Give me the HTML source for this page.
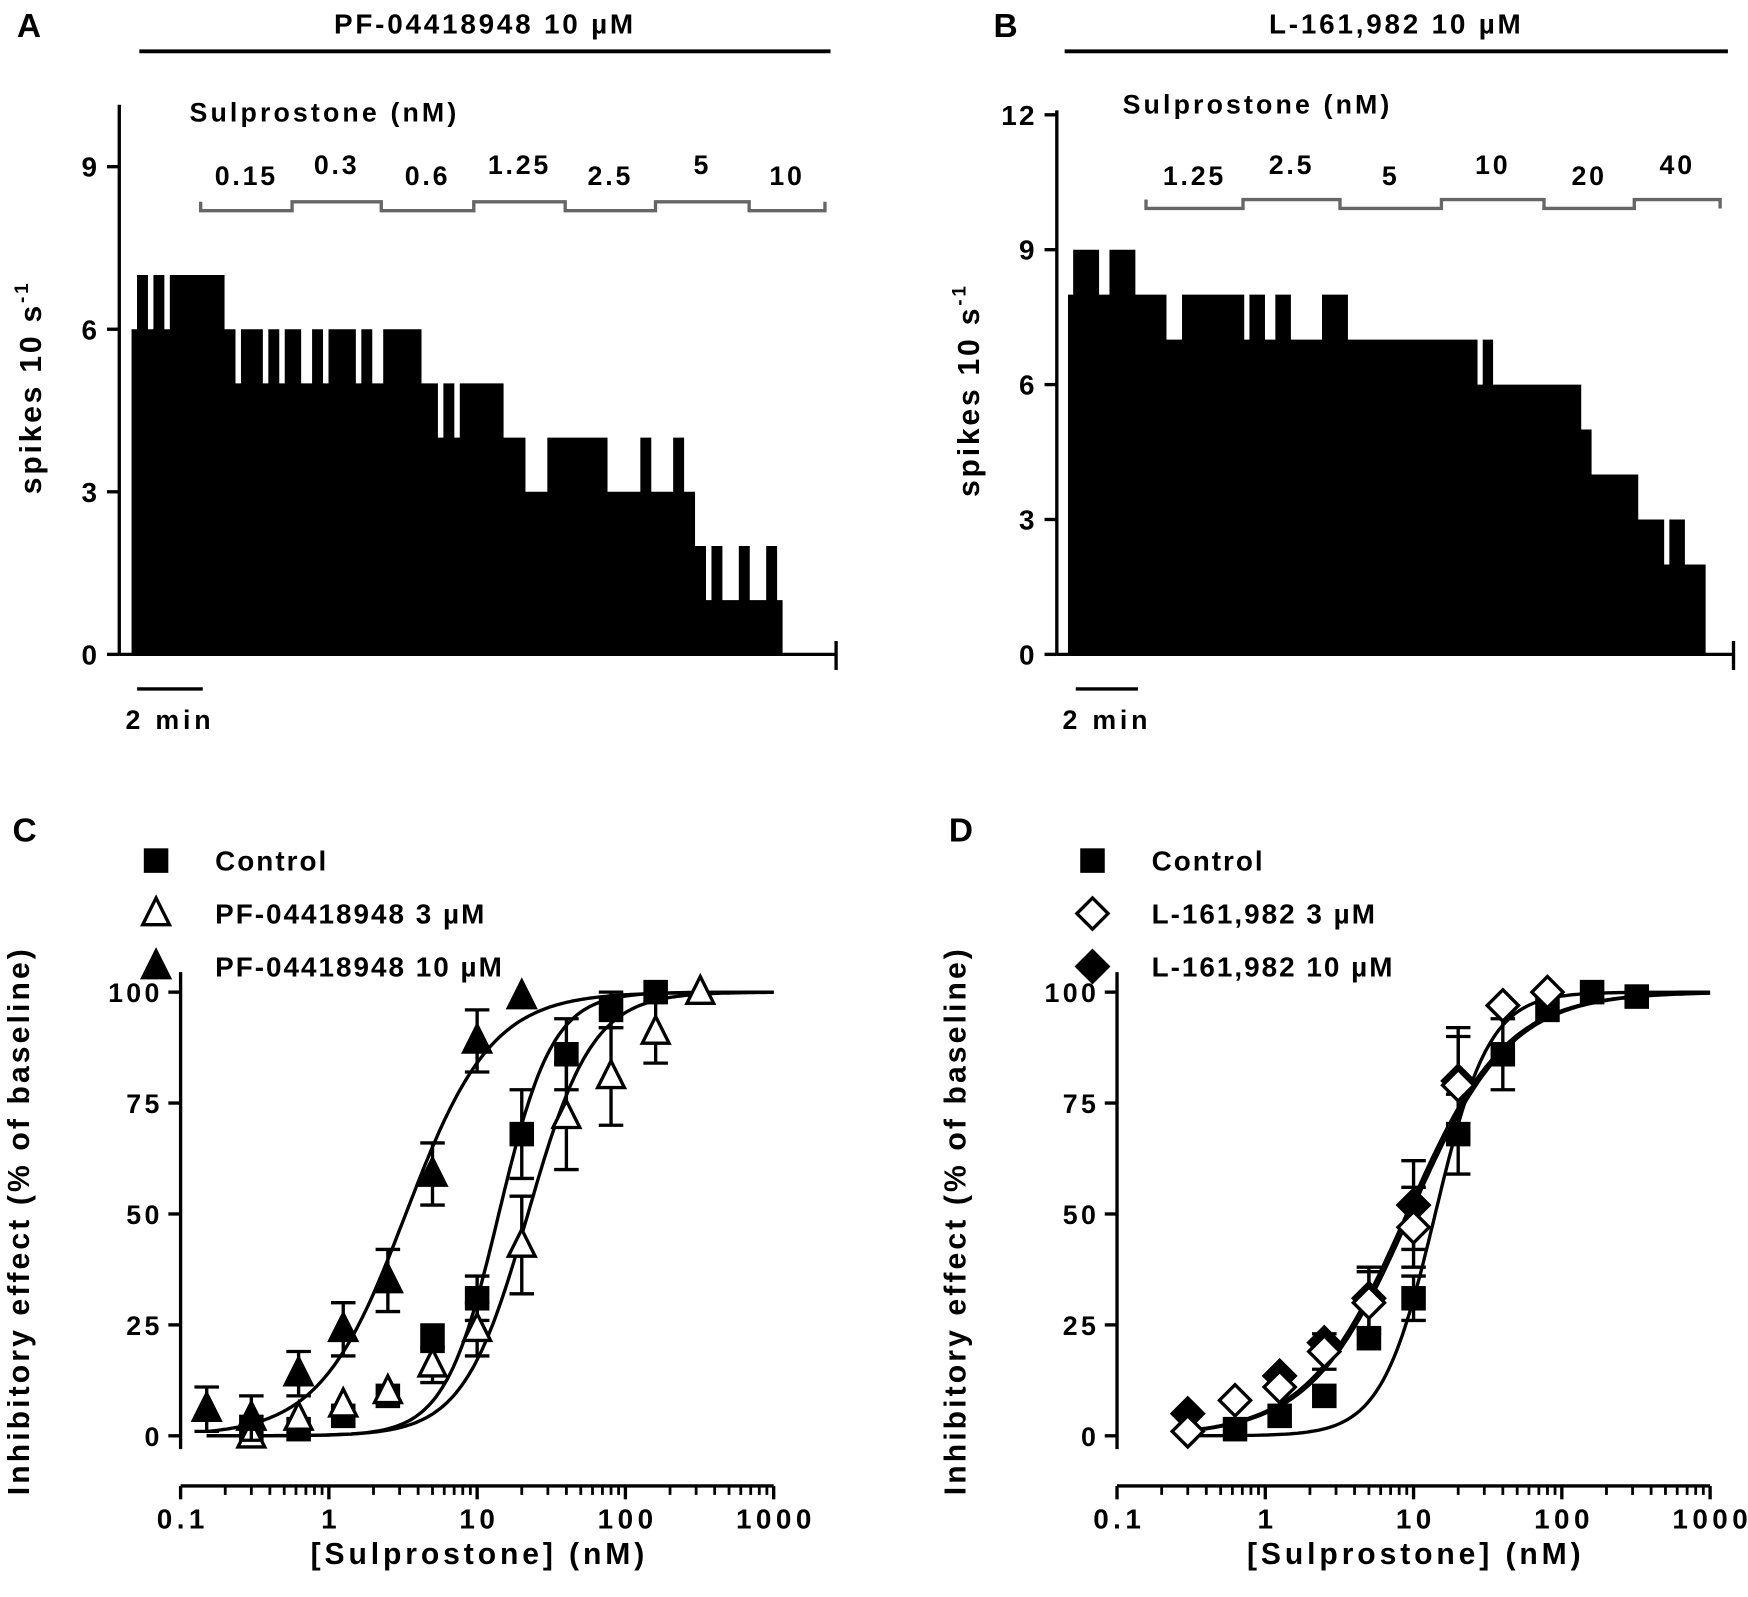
<!DOCTYPE html>
<html><head><meta charset="utf-8"><style>
html,body{margin:0;padding:0;background:#fff}
svg{display:block}
text{font-family:"Liberation Sans",Arial,sans-serif;font-weight:bold;fill:#000}
</style></head><body>
<svg id="fig" width="1748" height="1597" viewBox="0 0 1568 1432.6" preserveAspectRatio="none" xmlns="http://www.w3.org/2000/svg"></svg>
<script>
// ---------- Data ----------
const runValuesA = [6,7,6,7,6,7,6,5,6,5,6,5,6,5,6,5,6,5,6,5,6,5,4,5,4,5,4,3,4,3,4,3,4,3,2,1,2,1,2,1,2,1];
const runLengthsA = [1,2,1,2,1,10,2,1,4,1,2,1,3,2,2,1,5,1,2,2,7,3,1,2,1,8,4,4,11,6,2,4,2,2,2,1,2,3,2,3,2,1];
const runValuesB = [8,9,8,9,8,7,8,7,8,7,8,7,8,7,6,7,6,5,4,3,2,3,2];
const runLengthsB = [1,5,2,5,6,3,12,1,3,2,3,6,5,25,1,2,17,2,9,5,1,3,4];
const yTicksA = [0,3,6,9];
const yTicksB = [0,3,6,9,12];
const concLabelsA = ["0.15","0.3","0.6","1.25","2.5","5","10"];
const concLabelsB = ["1.25","2.5","5","10","20","40"];
// Panel C
const concC_ctrl = [0.3,0.625,1.25,2.5,5,10,20,40,80,160];
const valC_ctrl  = [2,1.5,4.5,9,22,31,68,86,96,100];
const errC_ctrl  = [0,0,0,0,3,5,10,8,4,0];
const concC_pf3  = [0.3,0.625,1.25,2.5,5,10,20,40,80,160,320];
const valC_pf3   = [0,4,7,10,16,24,43,72,81,91,100];
const errC_pf3   = [0,0,0,0,4,6,11,12,11,7,0];
const concC_pf10 = [0.15,0.3,0.625,1.25,2.5,5,10,20];
const valC_pf10  = [6,4,14,24,35,59,89,99];
const errC_pf10  = [5,5,5,6,7,7,7,0];
// Panel D
const concD_ctrl = [0.625,1.25,2.5,5,10,20,40,80,160,320];
const valD_ctrl  = [1.5,4.5,9,22,31,68,86,96,100,99];
const errD_ctrl  = [0,0,0,0,5,9,8,0,0,0];
const concD_l3   = [0.3,0.625,1.25,2.5,5,10,20,40,80];
const valD_l3    = [1,8,11,19,30,47,79,97,100];
const errD_l3    = [0,0,0,4,7,9,11,0,0];
const concD_l10  = [0.3,1.25,2.5,5,10,20,40];
const valD_l10   = [5,13.5,21,31,52,80,97];
const errD_l10   = [0,0,0,7,10,12,0];
const fitC = {ctrl:[14,2.4], pf3:[22,2.0], pf10:[3.3,1.5]};
const fitD = {ctrl:[14,2.4], l3:[9.5,1.3], l10:[9,1.3]};
const xTickLabels = ["0.1","1","10","100","1000"];
const yTicksDose = [0,25,50,75,100];

// ---------- Helpers ----------
const NS="http://www.w3.org/2000/svg";
const svg=document.getElementById('fig');
function mk(tag,attrs,parent){const e=document.createElementNS(NS,tag);for(const k in attrs)e.setAttribute(k,attrs[k]);(parent||svg).appendChild(e);return e;}
function txt(x,y,s,size,anchor,parent,ls){const t=mk('text',{x:x,y:y,'font-size':size,'text-anchor':anchor||'middle','letter-spacing':ls||0},parent);t.textContent=s;return t;}
function line(x1,y1,x2,y2,w,col,parent){return mk('line',{x1:x1,y1:y1,x2:x2,y2:y2,stroke:col||'#000','stroke-width':w||3},parent);}

// ---------- Trace panels ----------
function tracePanel(o){
  const g=mk('g',{});
  
  
  const y=v=>o.y0-(v/o.ymax)*(o.y0-o.ytop);
  const L=txt(o.letterX,33,o.letter,30,'middle',g);
  
  
  const db=line(o.barX1,46,o.barX2,46,3.5,'#000',g);
  
  
  const dt=txt((o.barX1+o.barX2)/2,30,o.drug,25,'middle',g,2.5);
  
  
  const sl=txt(o.sulX,o.sulY,'Sulprostone (nM)',24,'start',g,2.8);
  
  
  line(o.ax,o.ytop-4,o.ax,o.y0,3,'#000',g);
  o.yticks.forEach(v=>{
    line(o.ax-11,y(v),o.ax,y(v),3,'#000',g);
    const t=txt(o.ax-18,y(v)+9,String(v),25,'end',g,2);
    
    
  });
  const xa=line(o.ax,o.y0,o.xEnd,o.y0,3,'#000',g);
  
  
  line(o.xEnd,o.y0-12,o.xEnd,o.y0+14,3,'#000',g);
  const yl=mk('text',{x:0,y:0,'font-size':27,'text-anchor':'middle','letter-spacing':2.5,transform:`translate(${o.ax-70},${(o.ytop+o.y0)/2+5}) rotate(-90)`},g);
  
  
  yl.innerHTML='spikes 10 s<tspan dy="-12" font-size="17">-1</tspan>';
  const total=o.lens.reduce((a,b)=>a+b,0);
  const bw=(o.dEnd-o.dStart)/total;
  let pts=`M${o.dStart},${o.y0}`;let b=0;
  o.vals.forEach((v,i)=>{const x1=o.dStart+b*bw;b+=o.lens[i];const x2=o.dStart+b*bw;pts+=` L${x1},${y(v)} L${x2},${y(v)}`;});
  pts+=` L${o.dEnd},${o.y0} Z`;
  const p=mk('path',{d:pts,fill:'#000'},g);
  
  
  const sb=line(o.sbX,618,o.sbX+12*bw,618,3,'#000',g);
  
  
  const st=txt(o.sbX+6*bw,654,'2 min',24,'middle',g,3.4);
  
  
  let d=`M${o.br[0]},${o.brHi} L${o.br[0]},${o.brLo}`;
  for(let i=0;i<o.br.length-1;i++){
    const lv=i%2===0?o.brLo:o.brHi;
    if(i>0)d+=` L${o.br[i]},${lv}`;
    d+=` L${o.br[i+1]},${lv}`;
    const t=txt((o.br[i]+o.br[i+1])/2,i%2===0?166:156,o.labels[i],24,'middle',g,2.5);
    
    
  }
  const lastLv=(o.br.length-2)%2===0?o.brLo:o.brHi;
  d+=` L${o.br[o.br.length-1]},${lastLv===o.brLo?o.brHi:o.brLo}`;
  const bp=mk('path',{d:d,fill:'none',stroke:'#666','stroke-width':3},g);
  
  
}
tracePanel({name:'panel-a',letter:'A',letterX:26,drug:'PF-04418948 10 \u00b5M',barX1:125,barX2:745,sulX:170,sulY:109,
  ax:107,ytop:98,y0:587,ymax:10.06,xEnd:750,yticks:yTicksA,vals:runValuesA,lens:runLengthsA,dStart:118,dEnd:702,sbX:123,
  br:[180,262,342,425,507,588,672,740],brLo:189,brHi:181,labels:concLabelsA});
tracePanel({name:'panel-b',letter:'B',letterX:902,drug:'L-161,982 10 \u00b5M',barX1:955,barX2:1550,sulX:1007,sulY:102,
  ax:948,ytop:103,y0:587,ymax:12,xEnd:1555,yticks:yTicksB,vals:runValuesB,lens:runLengthsB,dStart:958,dEnd:1530,sbX:965,
  br:[1028,1115,1202,1293,1385,1466,1543],brLo:187,brHi:179,labels:concLabelsB});

// ---------- Dose-response panels ----------
function marker(g,type,cx,cy,name){
  let e;
  if(type==='sq') e=mk('rect',{x:cx-11,y:cy-11,width:22,height:22,fill:'#000'},g);
  else if(type==='tri'||type==='otri') e=mk('polygon',{points:`${cx},${cy-14} ${cx+12},${cy+10} ${cx-12},${cy+10}`,fill:type==='tri'?'#000':'#fff',stroke:'#000','stroke-width':3},g);
  else e=mk('polygon',{points:`${cx},${cy-14} ${cx+14},${cy} ${cx},${cy+14} ${cx-14},${cy}`,fill:type==='dia'?'#000':'#fff',stroke:'#000','stroke-width':3},g);
  
  
}
function dosePanel(o){
  const g=mk('g',{});
  
  
  const X=c=>o.ax+133*(Math.log10(c)+1);
  const Y=v=>1288-v*3.98;
  const L=txt(o.letterX,755,o.letter,30,'middle',g);
  
  
  o.legend.forEach((lg,i)=>{
    const yy=772+i*47.5;
    marker(g,lg[0],o.legX,yy,'legend-marker');
    const t=txt(o.legX+53,yy+9,lg[1],25,'start',g,1.8);
    
    
  });
  const ya=line(o.ax,872,o.ax,1300,3,'#000',g);
  
  
  yTicksDose.forEach(v=>{
    line(o.ax-11,Y(v),o.ax,Y(v),3,'#000',g);
    const t=txt(o.ax-16,Y(v)+9,String(v),24,'end',g,3);
    
    
  });
  const yl=txt(0,0,'Inhibitory effect (% of baseline)',27,'middle',g,2.8);
  yl.setAttribute('transform',`translate(${o.ax-136},1095) rotate(-90)`);
  
  
  const xa=line(o.ax,1333,o.ax+532,1333,3,'#000',g);
  
  
  xTickLabels.forEach((s,i)=>{
    const c=Math.pow(10,i-1);
    line(X(c),1333,X(c),1345,3,'#000',g);
    const t=txt(X(c)+2,1371,s,25,'middle',g,4);
    
    
    if(i<4)for(let m=2;m<10;m++)line(X(c*m),1333,X(c*m),1341,2.5,'#000',g);
  });
  const xl=txt(o.ax+268,1403,'[Sulprostone] (nM)',27,'middle',g,3.5);
  
  
  o.fits.forEach(f=>{
    let d='';
    for(let k=0;k<=200;k++){const lc=Math.log10(f[2])+k/200*(3-Math.log10(f[2]));const c=Math.pow(10,lc);
      const v=100/(1+Math.pow(f[0]/c,f[1]));d+=(k?' L':'M')+X(c).toFixed(1)+','+Y(v).toFixed(1);}
    const p=mk('path',{d:d,fill:'none',stroke:'#000','stroke-width':3},g);
    
    
  });
  o.series.forEach(s=>{
    s.c.forEach((c,i)=>{
      const x=X(c),v=s.v[i],e=s.e[i];
      if(e>0){
        const eb=mk('path',{d:`M${x},${Y(v+e)} L${x},${Y(v-e)} M${x-11},${Y(v+e)} L${x+11},${Y(v+e)} M${x-11},${Y(v-e)} L${x+11},${Y(v-e)}`,stroke:'#000','stroke-width':3,fill:'none'},g);
        
        
      }
      marker(g,s.t,x,Y(v),s.name);
    });
  });
}
dosePanel({name:'panel-c',letter:'C',letterX:22,ax:162,legX:140,
  legend:[['sq','Control'],['otri','PF-04418948 3 \u00b5M'],['tri','PF-04418948 10 \u00b5M']],
  fits:[[fitC.ctrl[0],fitC.ctrl[1],0.15],[fitC.pf3[0],fitC.pf3[1],0.15],[fitC.pf10[0],fitC.pf10[1],0.15]],
  series:[{t:'sq',c:concC_ctrl,v:valC_ctrl,e:errC_ctrl,name:'control-point'},
          {t:'otri',c:concC_pf3,v:valC_pf3,e:errC_pf3,name:'pf-3um-point'},
          {t:'tri',c:concC_pf10,v:valC_pf10,e:errC_pf10,name:'pf-10um-point'}]});
dosePanel({name:'panel-d',letter:'D',letterX:862,ax:1002,legX:980,
  legend:[['sq','Control'],['odia','L-161,982 3 \u00b5M'],['dia','L-161,982 10 \u00b5M']],
  fits:[[fitD.ctrl[0],fitD.ctrl[1],0.3],[fitD.l3[0],fitD.l3[1],0.3],[fitD.l10[0],fitD.l10[1],0.3]],
  series:[{t:'sq',c:concD_ctrl,v:valD_ctrl,e:errD_ctrl,name:'control-point'},
          {t:'dia',c:concD_l10,v:valD_l10,e:errD_l10,name:'l161-10um-point'},
          {t:'odia',c:concD_l3,v:valD_l3,e:errD_l3,name:'l161-3um-point'}]});
</script>
</body></html>
